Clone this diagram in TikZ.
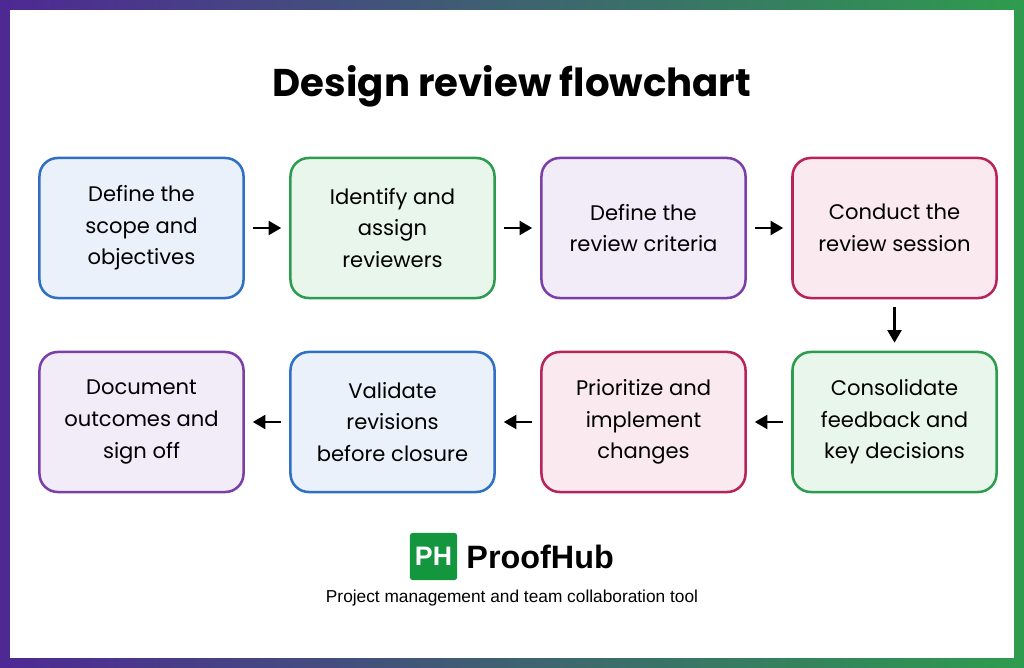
\documentclass[tikz,border=0pt]{standalone}
\usepackage{fontspec}
\setmainfont{Poppins}
\newfontfamily\tagfont{Liberation Sans}
\usetikzlibrary{positioning,arrows.meta}
\definecolor{bluebd}{HTML}{2F6FC4}\definecolor{bluefl}{HTML}{EAF1FB}
\definecolor{greenbd}{HTML}{2E9C4E}\definecolor{greenfl}{HTML}{E9F6EC}
\definecolor{purpbd}{HTML}{7A3FA8}\definecolor{purpfl}{HTML}{F2EBF8}
\definecolor{redbd}{HTML}{B8245A}\definecolor{redfl}{HTML}{FBE9F0}
\definecolor{phgreen}{HTML}{14963F}
\tikzset{
  step/.style={draw=#1bd,fill=#1fl,line width=1.8pt,rounded corners=13pt,
    minimum width=5.1cm,minimum height=3.5cm,align=center,
    font=\fontsize{15}{22.5}\selectfont},
  flow/.style={-{Triangle[length=9pt,width=10pt]},line width=1.6pt,shorten <=0.2cm,shorten >=0.2cm}
}
\begin{document}
\begin{tikzpicture}[x=0.025cm,y=-0.025cm]
	\useasboundingbox (0,0) rectangle (1024,668);
	\shade[left color=purpbd!80!blue!80!black,right color=greenbd] (0,0) rectangle (1024,668);
	\fill[white] (10,10) rectangle (1014,658);
	\node[font=\bfseries\fontsize{27.5}{32}\selectfont] (title) at (512,86) {Design review flowchart};
	% top row
	\node[step=blue] (scope) at (141.5,228) {Define the\\scope and\\objectives};
	\node[step=green] (assign) at (392.5,228) {Identify and\\assign\\reviewers};
	\node[step=purp] (criteria) at (643.5,228) {Define the\\review criteria};
	\node[step=red] (session) at (894.5,228) {Conduct the\\review session};
	% bottom row
	\node[step=green] (feedback) at (894.5,422) {Consolidate\\feedback and\\key decisions};
	\node[step=red] (changes) at (643.5,422) {Prioritize and\\implement\\changes};
	\node[step=blue] (validate) at (392.5,422) {Validate\\revisions\\before closure};
	\node[step=purp] (signoff) at (141.5,422) {Document\\outcomes and\\sign off};
	% arrows
	\draw[flow] (scope) -- (assign);
	\draw[flow] (assign) -- (criteria);
	\draw[flow] (criteria) -- (session);
	\draw[flow] (session) -- (feedback);
	\draw[flow] (feedback) -- (changes);
	\draw[flow] (changes) -- (validate);
	\draw[flow] (validate) -- (signoff);
	% logo
	\node[fill=phgreen,rounded corners=2pt,minimum size=1.18cm,text=white,
	  font=\tagfont\bfseries\fontsize{19}{19}\selectfont,inner sep=0pt] (logo) at (433.5,556.5) {PH};
	\node[right=0.22cm of logo,font=\tagfont\bfseries\fontsize{23}{25}\selectfont,inner sep=0pt] (brand) {ProofHub};
	\node[font=\tagfont\fontsize{12.3}{14}\selectfont] (tagline) at (512,598) {Project management and team collaboration tool};
\end{tikzpicture}
\end{document}
